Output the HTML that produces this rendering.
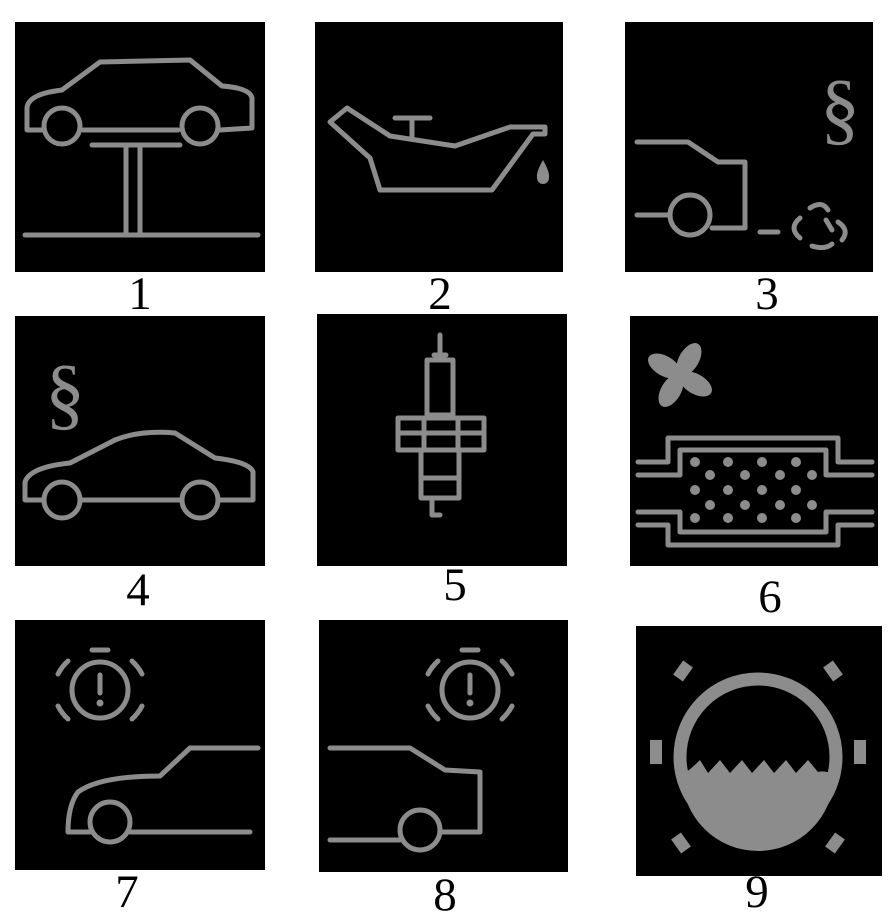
<!DOCTYPE html>
<html><head><meta charset="utf-8"><style>
html,body{margin:0;padding:0;background:#fff;width:889px;height:920px;overflow:hidden}
svg{display:block}
.s{fill:none;stroke:#8c8c8c;stroke-width:5;stroke-linejoin:round;stroke-linecap:round}
.f{fill:#8c8c8c}
.lab{font-family:"Liberation Serif",serif;font-size:47px;fill:#000;text-anchor:middle}
</style></head><body>
<svg width="889" height="920" viewBox="0 0 889 920">
<g>
<rect x="15" y="22" width="250" height="250" fill="#000"/>
<path class="s" d="M42,130 L27,130 L27,108 Q28,94 62,90 L100,62 L190,60 L222,86 Q250,88 252,98 L252,128 L220,130 M178,130 L83,130"/>
<circle class="s" cx="62" cy="126" r="18"/><circle class="s" cx="200" cy="126" r="18"/>
<path class="s" d="M92,145 L180,145 M126,145 L126,233 M140,145 L140,233 M25,235 L258,235"/>
</g>
<text class="lab" x="140" y="309">1</text>
<g>
<rect x="315" y="22" width="248" height="250" fill="#000"/>
<path class="s" d="M330,122 L347,108 L390,136 L455,146 L510,127 L545,127 L545,134 L533,134 L492,190 L380,190 L370,158 Z"/>
<path class="s" d="M395,118 L430,118 M412,118 L412,136"/>
<path class="f" d="M543,160 Q536,172 537,178 A6,6 0 0 0 549,178 Q550,172 543,160Z"/>
</g>
<text class="lab" x="440" y="309">2</text>
<g>
<rect x="625" y="22" width="248" height="250" fill="#000"/>
<text x="840" y="135" font-family="Liberation Serif,serif" font-size="80" fill="#8c8c8c" text-anchor="middle">§</text>
<path class="s" d="M637,142 L688,142 L718,162 L745,162 L745,228 L712,228 M668,215 L637,215 M760,232 L778,232"/>
<circle class="s" cx="690" cy="215" r="20"/>
<path class="s" d="M800,218 Q788,228 800,238 M810,208 Q822,200 828,210 M826,220 L832,230 M812,246 Q825,250 832,244 M838,222 Q850,230 842,240"/>
</g>
<text class="lab" x="767" y="309">3</text>
<g>
<rect x="15" y="316" width="250" height="250" fill="#000"/>
<text x="65" y="420" font-family="Liberation Serif,serif" font-size="80" fill="#8c8c8c" text-anchor="middle">§</text>
<path class="s" d="M44,500 L25,500 L25,482 Q30,467 70,463 L115,440 Q140,430 175,433 L215,458 Q250,462 253,472 L253,500 L220,500 M182,500 L80,500"/>
<circle class="s" cx="62" cy="500" r="18"/><circle class="s" cx="200" cy="500" r="18"/>
</g>
<text class="lab" x="138" y="605">4</text>
<g>
<rect x="317" y="314" width="250" height="252" fill="#000"/>
<path class="s" d="M440,335 L440,355 M434,355 L446,355 M427,360 L453,360 L453,415 L427,415 Z M398,418 L484,418 L484,450 L398,450 Z M398,433 L484,433 M424,418 L424,450 M458,418 L458,450 M421,450 L421,498 L459,498 L459,450 M421,478 L459,478 M432,498 L432,515 L440,515"/>
</g>
<text class="lab" x="455" y="600">5</text>
<g>
<rect x="630" y="316" width="248" height="250" fill="#000"/>
<g class="f" transform="translate(680,375)">
<ellipse cx="0" cy="-18" rx="10" ry="18" transform="rotate(30)"/><ellipse cx="0" cy="-18" rx="10" ry="18" transform="rotate(120)"/>
<ellipse cx="0" cy="-18" rx="10" ry="18" transform="rotate(210)"/><ellipse cx="0" cy="-18" rx="10" ry="18" transform="rotate(300)"/>
</g>
<path class="s" d="M638,462 L668,462 L668,438 L838,438 L838,462 L872,462 M638,475 L680,475 L680,450 L826,450 L826,475 L872,475 M638,512 L680,512 L680,532 L826,532 L826,512 L872,512 M638,525 L668,525 L668,545 L838,545 L838,525 L872,525"/>
<g class="f">
<circle cx="695" cy="462" r="5"/><circle cx="728" cy="462" r="5"/><circle cx="762" cy="462" r="5"/><circle cx="796" cy="462" r="5"/>
<circle cx="710" cy="475" r="5"/><circle cx="745" cy="475" r="5"/><circle cx="780" cy="475" r="5"/><circle cx="812" cy="475" r="5"/>
<circle cx="695" cy="490" r="5"/><circle cx="728" cy="490" r="5"/><circle cx="762" cy="490" r="5"/><circle cx="796" cy="490" r="5"/>
<circle cx="710" cy="505" r="5"/><circle cx="745" cy="505" r="5"/><circle cx="780" cy="505" r="5"/><circle cx="812" cy="505" r="5"/>
<circle cx="695" cy="518" r="5"/><circle cx="728" cy="518" r="5"/><circle cx="762" cy="518" r="5"/><circle cx="796" cy="518" r="5"/>
</g>
</g>
<text class="lab" x="770" y="612">6</text>
<g>
<rect x="15" y="620" width="250" height="250" fill="#000"/>
<circle class="s" cx="100" cy="690" r="28"/>
<path class="s" d="M100,675 L100,693"/><circle class="f" cx="100" cy="703" r="3.5"/>
<path class="s" d="M58,674 A45,45 0 0 1 68,661 M142,674 A45,45 0 0 0 132,661 M58,706 A45,45 0 0 0 68,719 M142,706 A45,45 0 0 1 132,719 M92,650 L108,650"/>
<path class="s" d="M258,748 L190,748 L160,776 Q100,776 78,792 Q68,805 68,832 L90,832 M130,832 L250,832"/>
<circle class="s" cx="110" cy="822" r="20"/>
</g>
<text class="lab" x="127" y="907">7</text>
<g>
<rect x="319" y="620" width="249" height="252" fill="#000"/>
<circle class="s" cx="470" cy="690" r="28"/>
<path class="s" d="M470,675 L470,693"/><circle class="f" cx="470" cy="703" r="3.5"/>
<path class="s" d="M428,674 A45,45 0 0 1 438,661 M512,674 A45,45 0 0 0 502,661 M428,706 A45,45 0 0 0 438,719 M512,706 A45,45 0 0 1 502,719 M462,650 L478,650"/>
<path class="s" d="M330,748 L410,748 L445,770 L480,772 L480,832 L440,832 M400,840 L330,840"/>
<circle class="s" cx="420" cy="830" r="20"/>
</g>
<text class="lab" x="445" y="910">8</text>
<g>
<rect x="636" y="626" width="246" height="250" fill="#000"/>
<circle cx="758" cy="757" r="78" fill="none" stroke="#8c8c8c" stroke-width="13"/>
<path class="f" d="M682,775 Q690,770 700,760 L708,773 L720,760 L730,773 L742,760 L752,773 L764,760 L774,773 L786,760 L796,773 L808,760 L818,772 Q826,770 834,775 A76,76 0 0 1 682,775 Z"/>
<path d="M688,664 L678,678 M828,664 L838,678 M656,740 L656,764 M860,740 L860,764 M676,836 L686,850 M840,836 L830,850" fill="none" stroke="#8c8c8c" stroke-width="12" stroke-linecap="butt"/>
</g>
<text class="lab" x="757" y="907">9</text>
</svg>
</body></html>
